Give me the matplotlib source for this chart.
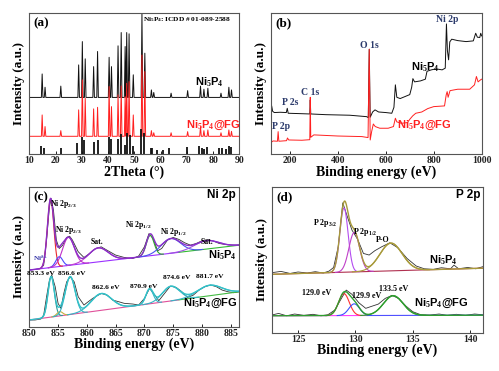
"""Ni5P4 / Ni5P4@FG: XRD pattern, XPS survey, Ni 2p and P 2p high-resolution spectra."""

import numpy as np
import matplotlib
matplotlib.use("Agg")
import matplotlib.pyplot as plt

plt.rcParams["font.family"] = ["Liberation Serif", "DejaVu Serif"]
plt.rcParams["font.weight"] = "bold"
plt.rcParams["mathtext.fontset"] = "custom"
plt.rcParams["mathtext.rm"] = "Liberation Serif:bold"
plt.rcParams["mathtext.it"] = "Liberation Serif:bold"
plt.rcParams["mathtext.bf"] = "Liberation Serif:bold"
SANS = "Liberation Sans"

# %% (a) XRD data  (intensity in arbitrary units, 0-100 of the axis height)
xrd_peaks = [14.9, 16.0, 22.0, 28.8, 30.2, 31.3, 34.5, 36.0, 40.4, 41.3, 43.8, 45.0,
             46.5, 47.1, 48.0, 49.6, 52.9, 54.0, 56.5, 57.4, 64.0, 70.3, 75.2, 76.5,
             78.0, 83.0, 86.0, 87.0]
xrd_black_top = [56.6, 47.2, 48.0, 63.0, 79.5, 67.3, 61.8, 72.5, 68.4, 61.8, 76.5, 85.9,
                 76.0, 85.9, 85.0, 56.0, 99.5, 71.3, 45.3, 43.5, 43.0, 44.8, 48.0, 45.8,
                 46.5, 43.0, 47.2, 45.3]
xrd_red_top = [27.6, 19.4, 16.5, 31.2, 52.4, 39.4, 31.9, 33.0, 47.7, 33.5, 41.8, 48.1,
               40.6, 50.0, 51.2, 27.6, 70.0, 58.3, 16.5, 15.0, 15.0, 15.8, 19.4, 16.5,
               17.0, 15.0, 17.0, 16.0]
xrd_black_base = 40.0
xrd_red_base = 12.5

icdd_pos = [14.6, 15.7, 22.1, 28.3, 29.9, 31.0, 34.6, 36.0, 40.3, 41.1, 43.9, 44.9,
            46.4, 47.2, 48.2, 49.4, 52.7, 53.8, 56.2, 56.9, 58.8, 60.9, 63.3, 69.9,
            74.6, 75.6, 76.7, 77.8, 82.4, 83.5, 84.9, 85.9, 86.8]
icdd_h = [5.9, 4.5, 4.5, 8.0, 11.8, 9.9, 8.7, 9.9, 12.3, 10.4, 10.4, 14.2,
          6.4, 14.6, 13.5, 5.9, 17.5, 15.1, 4.5, 4.5, 2.8, 2.8, 4.0, 5.2,
          5.9, 4.5, 3.3, 5.2, 4.0, 4.0, 3.5, 5.9, 5.2]

# %% (b) XPS survey
surv_black_x = [120, 124, 128, 135, 160, 185, 189, 193, 230, 283, 285, 287, 350, 450,
                520, 527, 531, 535, 545, 555, 570, 600, 625, 634, 640, 646, 660, 680,
                700, 708, 713, 720, 745, 765, 772, 790, 810, 835, 848, 853, 857, 862,
                867, 875, 900, 935, 965, 975, 982, 992, 996, 1000]
surv_black_y = [31.2, 34.0, 30.2, 29.3, 29.5, 29.3, 32.3, 28.8, 28.6, 28.3, 38.2, 28.3,
                27.8, 27.4, 26.4, 25.7, 74.1, 26.0, 29.7, 31.2, 29.7, 29.3, 28.8, 33.0,
                48.9, 40.1, 39.2, 40.6, 42.0, 47.2, 53.3, 51.0, 51.7, 52.9, 58.5, 59.5,
                60.2, 59.5, 60.7, 92.0, 73.2, 66.6, 79.3, 81.2, 80.2, 79.5, 80.0, 85.4,
                82.6, 82.4, 85.4, 83.5]
surv_red_x = [120, 130, 148, 151, 154, 186, 190, 195, 250, 283, 285, 287, 300, 400,
              500, 526, 531, 535, 541, 548, 556, 575, 610, 632, 640, 646, 665, 690,
              700, 712, 725, 750, 775, 800, 845, 852, 856, 860, 868, 900, 950, 970,
              978, 985, 995, 1000]
surv_red_y = [8.0, 9.2, 9.0, 15.8, 9.0, 9.4, 11.3, 9.9, 9.7, 10.1, 40.1, 11.8, 13.5,
              12.7, 12.3, 11.6, 74.1, 9.9, 15.8, 21.2, 19.4, 18.2, 18.2, 19.4, 25.3,
              22.7, 21.7, 22.2, 24.5, 26.9, 28.8, 29.7, 32.1, 33.5, 34.0, 41.8, 44.1,
              40.1, 44.8, 45.8, 45.8, 48.9, 54.8, 51.0, 52.4, 52.9]
surv_labels = ["Ni 2p", "O 1s", "C 1s", "P 2s", "P 2p"]
surv_label_x = [855, 530, 286, 200, 165]
surv_label_y = [95, 77, 43.5, 36.5, 19.3]

# %% (c) Ni 2p
ni_x = [850, 851, 852, 852.5, 853, 853.5, 853.8, 854.2, 854.7, 855.2, 855.8, 856.5,
        857, 857.5, 858.5, 859.5, 860.5, 861.5, 862.5, 863.5, 865, 866.5, 868, 869,
        870, 870.8, 871.5, 872.3, 873, 874, 875, 876, 877, 878, 879, 880, 881, 882,
        883, 884, 885.5, 886.5]
ni_top_y = [40.5, 40.9, 41.7, 44.0, 61.9, 85.7, 91.6, 83.3, 61.9, 55.9, 58.3, 63.8,
            64.7, 61.9, 53.6, 49.5, 52.4, 55.9, 57.1, 54.7, 51.2, 49.5, 48.8, 50.5,
            57.1, 66.6, 63.1, 54.3, 55.9, 61.9, 63.8, 62.4, 60.0, 58.3, 59.5, 61.4,
            62.4, 61.2, 59.5, 58.8, 58.3, 58.3]
ni_x2 = [850, 851, 852, 852.5, 853, 853.5, 853.9, 854.5, 855, 855.5, 856, 856.5,
         857.1, 857.8, 858.5, 859.5, 860, 861, 862, 862.5, 863.5, 864.5, 865.5, 866.5,
         868, 869, 870, 870.9, 871.8, 872.5, 873.5, 874.5, 875.5, 876.5, 877.5, 878.5,
         879.5, 880.5, 881.5, 882.5, 883.5, 884.5, 885.5, 886.5]
ni_bot_y = [4.8, 4.8, 5.5, 8.3, 21.4, 33.3, 36.9, 28.6, 16.7, 13.1, 23.8, 32.1,
            35.7, 32.1, 21.4, 15.5, 17.1, 20.2, 22.6, 23.8, 22.6, 19.0, 17.9, 16.7,
            16.2, 15.5, 20.2, 27.4, 22.6, 18.6, 23.8, 29.0, 28.1, 25.0, 20.9, 22.6,
            26.2, 28.6, 29.8, 28.6, 26.2, 25.0, 24.3, 25.0]
# fitted components: centre (eV), height above background, FWHM (eV)
ni_top_bg = (40.5, 58.3)
ni_top_centre = [853.7, 855.2, 856.8, 862.0, 871.0, 874.6, 880.8]
ni_top_height = [49, 7, 20, 10, 14.5, 10.5, 6]
ni_top_fwhm = [1.3, 1.4, 2.4, 4.0, 1.6, 4.0, 5.0]
ni_top_colors = ["#e8282e", "#4a4aff", "#c030c8", "#c040d0", "#30a830", "#4a55ee", "#a050e0"]
ni_bot_bg = (4.8, 25.0)
ni_bot_centre = [853.8, 855.3, 857.1, 862.5, 870.9, 874.6, 881.3]
ni_bot_height = [29, 3, 27, 12, 10.5, 10.5, 7.5]
ni_bot_fwhm = [1.3, 1.2, 2.0, 4.2, 1.5, 3.5, 5.0]
ni_bot_colors = ["#2a9a9a", "#c8b040", "#33b5c5", "#33b5c5", "#33b5c5", "#33b5c5", "#33b5c5"]

# %% (d) P 2p
p_x = [122.7, 123.5, 124.3, 125, 125.8, 126.5, 127.2, 127.7, 128.1, 128.5, 128.9,
       129.3, 129.7, 130.2, 130.7, 131.2, 131.7, 132.3, 133, 133.7, 134.5, 135.3,
       136, 136.8, 137.5, 138.3, 138.6, 139, 139.8, 140.5, 141.1]
p_top_y = [41.1, 42.0, 40.6, 41.6, 40.9, 41.8, 40.9, 42.2, 44.7, 58.9, 89.0, 79.4,
           70.3, 63.9, 54.3, 53.2, 56.2, 58.9, 61.6, 58.2, 50.9, 45.7, 43.8, 43.4,
           44.5, 43.8, 46.3, 43.8, 44.7, 43.8, 45.2]
p_x2 = [122.7, 123.3, 124, 124.7, 125.5, 126.3, 127, 127.6, 128.2, 128.7, 129.2,
        129.7, 130.3, 130.9, 131.5, 132, 132.6, 133.2, 133.8, 134.4, 135, 135.7,
        136.5, 137.3, 138, 138.8, 139.6, 140.4, 141.1]
p_bot_y = [12.1, 13.2, 11.6, 12.8, 11.9, 12.6, 11.6, 12.3, 15.5, 22.4, 29.2, 26.3,
           20.5, 16.7, 18.3, 19.6, 23.5, 25.6, 23.3, 18.3, 14.4, 12.3, 12.1, 12.8,
           11.9, 12.6, 11.9, 12.8, 12.3]
p_top_bg = (40.0, 44.2)
p_top_centre = [129.0, 129.9, 133.1]
p_top_height = [44, 27, 19]
p_top_fwhm = [0.85, 1.1, 2.3]
p_top_colors = ["#b44cf0", "#c040c8", "#a89a3a"]
p_bot_bg = (11.6, 12.0)
p_bot_centre = [129.0, 129.9, 133.3]
p_bot_height = [15, 8, 13.5]
p_bot_fwhm = [1.1, 1.1, 2.0]
p_bot_colors = ["#ff3030", "#3a50ff", "#2e9e2e"]


# %% Helpers
def style_axes(ax, xlim, xticks, xlabel, tag):
    ax.set_xlim(*xlim)
    ax.set_ylim(0, 100)
    ax.set_xticks(xticks)
    ax.set_yticks([])
    ax.tick_params(axis="x", direction="in", length=2.5, width=0.7, labelsize=7,
                   pad=1.5, colors="#222222")
    for lab in ax.get_xticklabels():
        lab.set_fontweight("bold")
    for sp in ax.spines.values():
        sp.set_color("#555555")
        sp.set_linewidth(0.8)
    ax.set_xlabel(xlabel, fontsize=10, fontweight="bold", labelpad=0)
    ax.set_ylabel("Intensity (a.u.)", fontsize=9.5, fontweight="bold", labelpad=3)
    ax.text(0.02, 0.97, tag, transform=ax.transAxes, fontsize=9.5, fontweight="bold",
            va="top", ha="left")


def stick_curve(xmin, xmax, base, centres, tops, half=0.3):
    xs, ys = [xmin], [base]
    for c, t in zip(centres, tops):
        xs += [c - half, c, c + half]
        ys += [base, t, base]
    xs.append(xmax)
    ys.append(base)
    return xs, ys


def gauss(x, c, h, w):
    return h * np.exp(-4 * np.log(2) * ((x - c) / w) ** 2)


def draw_fit(ax, xlim, bg_ends, centres, heights, fwhms, colors, env_color, bg_colors,
             split):
    x = np.linspace(xlim[0], xlim[1], 600)
    bg = bg_ends[0] + (bg_ends[1] - bg_ends[0]) * (x - xlim[0]) / (xlim[1] - xlim[0])
    left = x <= split
    ax.plot(x[left], bg[left], color=bg_colors[0], lw=0.8)
    ax.plot(x[~left], bg[~left], color=bg_colors[1], lw=0.8)
    total = bg.copy()
    for c, h, w, col in zip(centres, heights, fwhms, colors):
        g = gauss(x, c, h, w)
        total += g
        mask = g > 0.05
        ax.plot(x[mask], bg[mask] + g[mask], color=col, lw=0.8)
    ax.plot(x, total, color=env_color, lw=1.0)


fig = plt.figure(figsize=(4.99, 3.71), dpi=100)

# %% (a)
ax = fig.add_axes([0.0587, 0.585, 0.421, 0.381])
xb, yb = stick_curve(10, 90, xrd_black_base, xrd_peaks, xrd_black_top)
xr, yr = stick_curve(10, 90, xrd_red_base, xrd_peaks, xrd_red_top)
ax.plot(xb, yb, color="#111111", lw=0.7)
ax.plot(xr, yr, color="#ff2020", lw=0.7)
ax.vlines(icdd_pos, 0, icdd_h, color="#111111", lw=1.3)
style_axes(ax, (10, 90), range(10, 91, 10), "2Theta (°)", "(a)")
ax.text(53.3, 95.3, r"Ni$_5$P$_4$: ICDD # 01-089-2588", fontsize=5.3, va="center",
        ha="left")
ax.text(73.0, 51, r"Ni$_5$P$_4$", fontsize=8, family=SANS, fontweight="bold",
        va="center", ha="left")
ax.text(69.5, 20.5, r"Ni$_5$P$_4$@FG", fontsize=8, family=SANS, fontweight="bold",
        color="#ff2020", va="center", ha="left")

# %% (b)
ax = fig.add_axes([0.5425, 0.585, 0.4228, 0.381])
ax.plot(surv_black_x, surv_black_y, color="#111111", lw=0.7)
ax.plot(surv_red_x, surv_red_y, color="#ff2020", lw=0.7)
style_axes(ax, (120, 1000), range(200, 1001, 200), "Binding energy (eV)", "(b)")
for t, lx, ly in zip(surv_labels, surv_label_x, surv_label_y):
    ax.text(lx, ly, t, fontsize=7, color="#2b3a6b", ha="center", va="center")
ax.text(707, 61, r"Ni$_5$P$_4$", fontsize=8, family=SANS, fontweight="bold",
        va="center", ha="left")
ax.text(645, 20.5, r"Ni$_5$P$_4$@FG", fontsize=8, family=SANS, fontweight="bold",
        color="#ff2020", va="center", ha="left")

# %% (c)
xlim_c = (850, 886.5)
ax = fig.add_axes([0.0587, 0.1194, 0.421, 0.377])
ax.plot(ni_x, ni_top_y, color="#333333", lw=0.6)
ax.plot(ni_x2, ni_bot_y, color="#333333", lw=0.6)
draw_fit(ax, xlim_c, ni_top_bg, ni_top_centre, ni_top_height, ni_top_fwhm,
         ni_top_colors, "#8a2fc8", ("#9b30ff", "#33bb33"), 876)
draw_fit(ax, xlim_c, ni_bot_bg, ni_bot_centre, ni_bot_height, ni_bot_fwhm,
         ni_bot_colors, "#33c1c8", ("#e0509a", "#44bb44"), 876)
style_axes(ax, xlim_c, range(850, 886, 5), "Binding energy (eV)", "(c)")
ax.text(885.8, 94, "Ni 2p", fontsize=8.5, family=SANS, fontweight="bold",
        ha="right", va="center")
c_labels = [r"Ni 2p$_{2/3}$", r"Ni 2p$_{2/3}$", "Sat.", r"Ni 2p$_{1/2}$",
            r"Ni 2p$_{1/2}$", "Sat."]
c_lx = [856.0, 856.8, 861.7, 868.9, 875.0, 880.8]
c_ly = [88, 69, 60.5, 72.6, 67.8, 60.7]
for t, lx, ly in zip(c_labels, c_lx, c_ly):
    ax.text(lx, ly, t, fontsize=5.6, ha="center", va="center")
ax.text(852.0, 48.8, r"Ni$^{\delta+}$", fontsize=5.3, color="#3a3aaa",
        ha="center", va="center")
e_labels = ["853.3 eV", "856.6 eV", "862.6 eV", "870.9 eV", "874.6 eV", "881.7 eV"]
e_lx = [852.0, 857.3, 863.3, 869.8, 875.6, 881.4]
e_ly = [38, 38, 27.8, 29, 35, 35.7]
for t, lx, ly in zip(e_labels, e_lx, e_ly):
    ax.text(lx, ly, t, fontsize=5.4, ha="center", va="center")
ax.text(886.0, 51, r"Ni$_5$P$_4$", fontsize=8, family=SANS, fontweight="bold",
        ha="right", va="center")
ax.text(886.2, 17, r"Ni$_5$P$_4$@FG", fontsize=8, family=SANS, fontweight="bold",
        ha="right", va="center")

# %% (d)
xlim_d = (122.7, 141.1)
ax = fig.add_axes([0.5445, 0.1032, 0.4228, 0.3935])
ax.plot(p_x, p_top_y, color="#333333", lw=0.6)
ax.plot(p_x2, p_bot_y, color="#333333", lw=0.6)
draw_fit(ax, xlim_d, p_top_bg, p_top_centre, p_top_height, p_top_fwhm,
         p_top_colors, "#a89a3a", ("#b03050", "#b03050"), 141.1)
draw_fit(ax, xlim_d, p_bot_bg, p_bot_centre, p_bot_height, p_bot_fwhm,
         p_bot_colors, "#2e9e2e", ("#ff40ff", "#5050ff"), 131)
style_axes(ax, xlim_d, range(125, 141, 5), "Binding energy (eV)", "(d)")
ax.text(140.9, 94, "P 2p", fontsize=8.5, family=SANS, fontweight="bold",
        ha="right", va="center")
d_labels = [r"P 2p$_{3/2}$", r"P 2p$_{1/2}$", "P-O", "129.0 eV", "129.9 eV", "133.5 eV"]
d_lx = [127.4, 130.85, 132.4, 126.6, 131.0, 133.3]
d_ly = [75.3, 69.2, 63.5, 27, 25, 29.7]
for t, lx, ly in zip(d_labels, d_lx, d_ly):
    ax.text(lx, ly, t, fontsize=5.8, ha="center", va="center")
ax.text(136.4, 49.8, r"Ni$_5$P$_4$", fontsize=8, family=SANS, fontweight="bold",
        ha="left", va="center")
ax.text(135.1, 20, r"Ni$_5$P$_4$@FG", fontsize=8, family=SANS, fontweight="bold",
        ha="left", va="center")

fig.savefig("out.png", dpi=100)
